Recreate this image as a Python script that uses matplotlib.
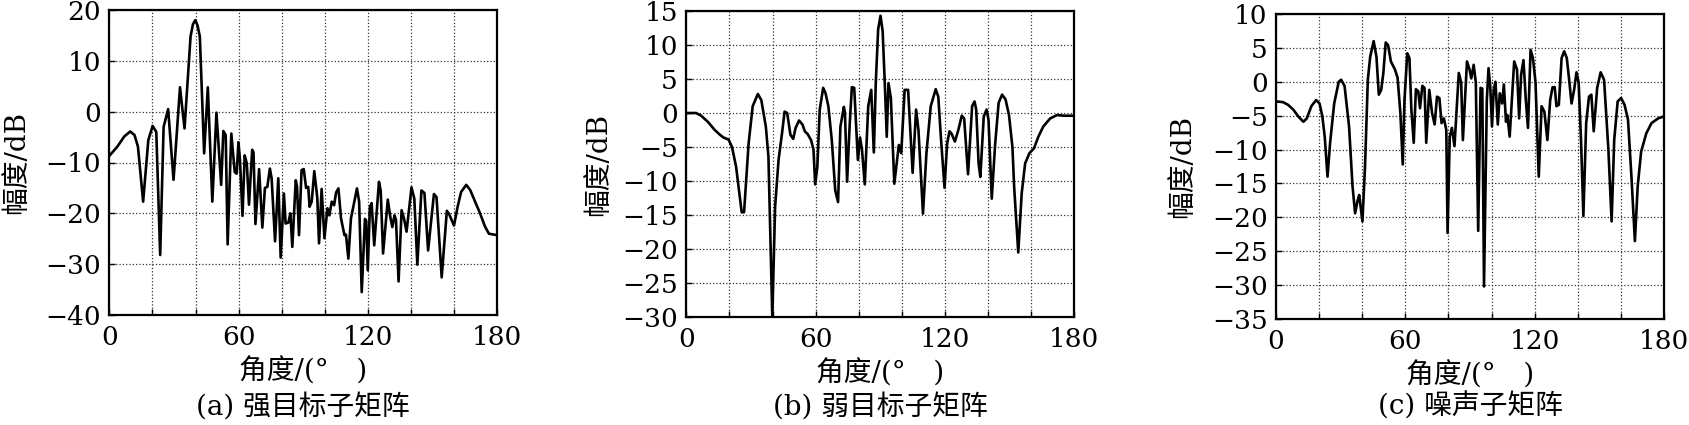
import matplotlib
matplotlib.use("Agg")
import matplotlib.pyplot as plt
from matplotlib.ticker import MultipleLocator

# --- DATA ---
ang_a = [0, 3.7, 6.9, 9.7, 11.7, 13.3, 15.7, 18.1, 20.1, 21.8, 23.6, 25.2, 27.3, 29.8,
         32.8, 34.9, 37.7, 38.8, 39.9, 40.9, 42, 44, 45.7, 47.8, 49.7, 51.9, 52.9, 54,
         54.9, 56.6, 58.2, 59.1, 59.9, 60.6, 61.8, 62.8, 63.8, 64.8, 66.3, 66.9, 67.8,
         69.5, 71.0, 72.2, 73.3, 74.5, 75.3, 76.9, 78.4, 79.5, 81.0, 81.8, 83.1, 84.0,
         84.9, 86.5, 87.1, 88.0, 89.2, 90.2, 91.3, 92.3, 92.9, 93.9, 95.1, 96.5, 97.3,
         98.5, 99.8, 101.2, 102.1, 103.2, 104.3, 105.2, 106.3, 107.5, 109.1, 109.8,
         110.9, 112.1, 113.2, 114.9, 115.9, 117.1, 118.6, 119.2, 119.9, 120.9, 121.7,
         122.9, 125.1, 125.9, 127.0, 129.2, 130.4, 131.3, 132.3, 133.0, 134.2, 135.6,
         136.7, 137.9, 140.2, 141.5, 142.9, 144.8, 146.2, 147.9, 150.6, 151.8, 154.2,
         156.6, 157.7, 159.9, 161.6, 163.2, 165.6, 167.4, 169.7, 172.0, 174.3, 176.1, 180]
amp_a = [-8.7, -6.9, -4.9, -3.9, -4.6, -6.9, -17.7, -5.6, -2.8, -4.0, -28.2, -3.0, 0.5, -13.4,
         4.8, -3.3, 14.8, 17.2, 18.0, 17.0, 14.8, -8.2, 4.8, -17.7, -0.2, -14.4, -3.8, -4.6,
         -26.1, -4.3, -11.9, -12.2, -6.0, -9.3, -20.5, -8.6, -10.2, -18.3, -7.5, -8.0, -22.1,
         -11.3, -22.8, -15.0, -14.8, -11.2, -13.1, -25.5, -13.1, -28.7, -16.1, -22.0, -21.8, -20.0,
         -26.6, -13.5, -14.8, -24.3, -11.5, -11.3, -15.0, -14.8, -18.7, -17.7, -11.7, -17.0, -25.9,
         -15.2, -24.9, -19.0, -20.4, -17.7, -18.4, -15.9, -15.1, -21.0, -24.3, -24.2,
         -28.9, -21.0, -18.7, -15.1, -17.7, -35.5, -21.1, -21.5, -31.2, -18.7, -18.0,
         -26.3, -13.8, -15.5, -27.9, -17.3, -20.8, -22.7, -20.4, -21.3, -33.4, -19.4,
         -21.0, -23.6, -14.9, -17.1, -30.1, -15.5, -16.0, -27.3, -16.2, -16.8, -32.6,
         -19.5, -20.2, -22.4, -18.7, -15.8, -14.4, -15.4, -17.7, -20.0, -22.6, -24.0, -24.3]

ang_b = [0, 4.5, 6.9, 10, 13.2, 15.6, 17.2, 19.6, 21.2, 23.1, 25.7, 26.8, 28.9, 30.8, 33.2,
         34.8, 36.9, 38.1, 39.9, 41.2, 42.8, 44.4, 45.6, 46.8, 48.3, 49.6, 50.7, 52.3, 53.9,
         55, 56.3, 57.9, 59, 59.8, 60.8, 61.9, 63.5, 64.6, 65.9, 67.5, 69.1, 70.4, 71.5,
         73.1, 73.6, 74.6, 75.8, 76.8, 77.9, 79, 79.6, 80.6, 81.5, 82.8, 84.4, 85.8, 87,
         87.9, 89, 90.1, 91.1, 92.2, 93, 93.8, 94.9, 96.5, 98.6, 99.7, 101.3, 102.9, 105,
         106.6, 107.7, 109.8, 111.4, 113.4, 115.7, 116.9, 118.2, 119.8, 121, 122.1, 123,
         124.6, 126.2, 127.8, 128.9, 130.7, 132.6, 133.7, 134.5, 135.6, 136.4, 138, 139.3,
         140.2, 141.7, 143.3, 144.9, 146.5, 148.1, 149.7, 151.3, 152.1, 154, 155.6, 157.2,
         159.2, 161.3, 163.3, 165.6, 168.8, 172, 175.2, 180]
amp_b = [0, 0, -0.4, -1.3, -2.5, -3.2, -3.6, -3.9, -5, -7.9, -14.6, -14.6, -4.5, 1, 2.8,
         1.9, -2, -6.4, -30, -13.8, -6.9, -3, 0.2, 0, -3.2, -3.8, -2.2, -1.1, -1.7,
         -2.7, -3.1, -4, -5.4, -10.5, -7.9, 0.5, 3.7, 2.9, 1, -4, -11.4, -13.1, -2,
         0.9, 0, -10.1, -1.7, 3.8, 3.7, -3.2, -6.9, -3.6, -5.4, -10.5, 1, 3.4, -5.8,
         4.4, 12.3, 14.3, 12, 3.4, -3.5, 4.4, 2.2, -10.4, -4.7, -5.9, 3.4, 3.4, -8.8,
         0.5, -2.5, -14.8, -5.9, 1, 3.5, 2.4, -4, -11, -4.5, -2.7, -3,
         -4.2, -2.5, -0.4, -0.8, -9, 1, 1.7, 0.5, -7.4, -9.4, -0.5, 0.5,
         -1, -12.6, -4.5, 1.5, 2.7, 2, -0.3, -5, -10.9, -20.5, -11.8, -7.4,
         -5.9, -5.2, -3.5, -2, -0.8, -0.3, -0.4, -0.4]

ang_c = [0, 3.2, 5.6, 8, 10.3, 12.7, 14.3, 16.4, 18.6, 20.2, 21.5, 22.6, 23.9, 25.1, 27,
         29.1, 30.2, 31.8, 33.9, 35.5, 36.7, 37.8, 38.6, 40.1, 41.3, 42.6, 43.7, 45.3, 46.6,
         47.7, 48.8, 49.8, 50.9, 52, 53.3, 55.2, 56.4, 57.7, 58.8, 59.6, 60.9, 61.9, 62.8,
         63.9, 64.9, 66, 66.8, 67.9, 68.9, 69.7, 71.1, 72.4, 73.6, 74.7, 75.8, 76.8, 77.9,
         79, 79.6, 80.6, 81.6, 82.8, 84.8, 85.9, 86.7, 88.6, 89.8, 90.6, 91.7, 92.7, 93.8,
         94.9, 95.7, 96.5, 97.8, 98.6, 99.4, 100.2, 101, 101.8, 102.9, 103.8, 104.9, 105.7,
         106.7, 107.3, 108.4, 110.5, 111.8, 112.8, 113.7, 114.8, 115.9, 116.9, 118.1, 119.2,
         120.4, 121.9, 123.2, 124.5, 125.9, 127.2, 128.3, 129.3, 130.1, 131.2, 132.5, 133.7,
         134.9, 136, 137.1, 138.3, 139.4, 140.4, 141.5, 142.6, 143.9, 145.2, 146.3, 147.4,
         149, 150.6, 152.2, 154.2, 155.7, 156.9, 158.5, 160.1, 161.7, 163.3, 164.9, 166.5,
         167.8, 169.4, 171.8, 174.2, 177.3, 180]
amp_c = [-2.9, -3, -3.4, -4.1, -5.1, -5.9, -5.4, -3.6, -2.7, -3.2, -5.1, -8.1, -14, -9, -3.2,
         0, 0.3, -0.6, -6.6, -15.4, -19.4, -17.6, -16.7, -20.6, -12.5, 0.3, 3.7, 6, 3.7,
         -1.9, -1.2, 1.3, 5.8, 5.4, 3, 1.8, 0.6, -4.6, -12.2, -2.7, 4.2, 3.5, -4.1,
         -9, -1.1, -1.4, -3.9, -0.6, -0.9, -9, -1.2, -4.6, -6.3, -2.2, -2.4, -6.1, -5.4,
         -7.1, -22.3, -8.1, -6.8, -9.5, 1.3, -0.1, -8.6, 3, 1.8, 0.5, 2.5, -0.1, -22,
         -0.9, -1, -30.2, -2.7, 2, -0.7, -6.6, -1.2, 0, -6.3, -1.7, -3.2, -0.4,
         -5.9, -4.9, -8.1, 3, 1.8, -5.4, 1, 3.2, -2.7, -6.8, 4.7, 3.5,
         -0.1, -14, -3.6, -4.4, -8.6, -2.7, -0.8, -0.8, -3.6, -3.4, 3.5, 4.5,
         3.5, 0.3, -3.2, -1.2, 1.4, -0.1, -8.6, -19.8, -6.1, -2.2, -1.9, -7.3,
         -0.9, 1.4, 0.3, -10, -20.6, -8.6, -2.9, -2.4, -3.4, -5.6, -14, -23.5,
         -15.4, -10.3, -7.6, -6.1, -5.4, -5.1]

captions = ["(a) 强目标子矩阵", "(b) 弱目标子矩阵", "(c) 噪声子矩阵"]
ylims = [(-40, 20), (-30, 15), (-35, 10)]
ysteps = [10, 5, 5]
xticks = [0, 60, 120, 180]

plt.rcParams['font.family'] = ['DejaVu Serif', 'Noto Sans CJK SC']
plt.rcParams['axes.unicode_minus'] = True

W, H = 1689, 425
fig = plt.figure(figsize=(W / 100, H / 100), dpi=100)

# axes boxes in pixels: left, right, top, bottom
boxes = [(109.3, 497.3, 10, 315), (686.3, 1074.3, 11, 317), (1276, 1664, 14, 319)]
# distance from the axis to the right edge of the rotated y label, in pixels
ylab_off = [79, 74, 80]
series = [(ang_a, amp_a), (ang_b, amp_b), (ang_c, amp_c)]

for i, (l, r, t, b) in enumerate(boxes):
    w, h = r - l, b - t
    ax = fig.add_axes([l / W, 1 - b / H, w / W, h / H])
    x, y = series[i]
    ax.plot(x, y, color='black', linewidth=1.9)
    ax.set_xlim(0, 180)
    ax.set_ylim(*ylims[i])
    ax.set_xticks(xticks)
    ax.xaxis.set_minor_locator(MultipleLocator(20))
    ax.yaxis.set_major_locator(MultipleLocator(ysteps[i]))
    ax.grid(True, which='both', axis='x', linestyle=':', color='#333333', linewidth=0.9)
    ax.grid(True, which='major', axis='y', linestyle=':', color='#333333', linewidth=0.9)
    ax.tick_params(which='both', direction='in', length=4, width=1, labelsize=19)
    ax.tick_params(axis='x', which='major', pad=7)
    ax.tick_params(axis='y', which='major', pad=6)
    for s in ax.spines.values():
        s.set_linewidth(1.6)
    ax.set_xlabel("角度/(°\u3000)", fontsize=20)
    ax.xaxis.set_label_coords(0.5, -42 / h)
    ax.set_ylabel("幅度/dB", fontsize=20)
    ax.yaxis.set_label_coords(-ylab_off[i] / w, 0.5)
    fig.text((l + r) / 2 / W, 1 - 407 / H, captions[i], ha='center', va='center', fontsize=20)

fig.savefig("out.png", dpi=100)
